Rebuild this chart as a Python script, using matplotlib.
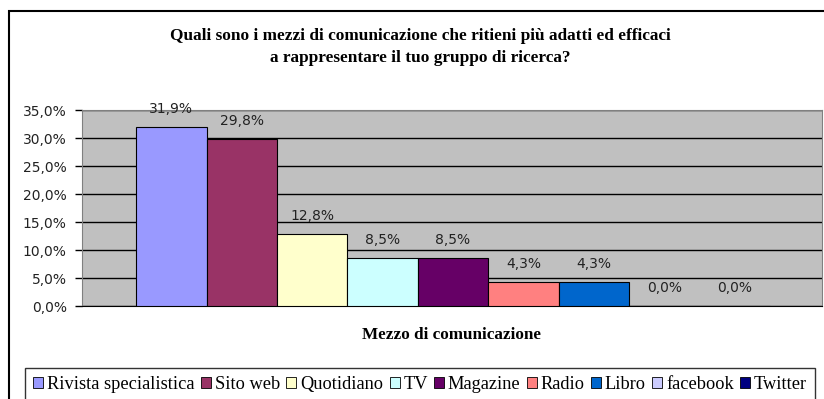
import matplotlib.pyplot as plt
from matplotlib.patches import Patch, Rectangle
from matplotlib.ticker import FuncFormatter, MultipleLocator
import numpy as np

# Risposte alla domanda sui mezzi di comunicazione (percentuali)
mezzi = ['Rivista specialistica', 'Sito web', 'Quotidiano', 'TV', 'Magazine',
         'Radio', 'Libro', 'facebook', 'Twitter']
percentuali = [31.9, 29.8, 12.8, 8.5, 8.5, 4.3, 4.3, 0.0, 0.0]
colori = ['#9999FF', '#993366', '#FFFFCC', '#CCFFFF', '#660066',
          '#FF8080', '#0066CC', '#CCCCFF', '#000080']

titolo = ('Quali sono i mezzi di comunicazione che ritieni più adatti ed efficaci\n'
          'a rappresentare il tuo gruppo di ricerca?')


def fmt_pct(v, pos=None):
    return f'{v:.1f}%'.replace('.', ',')


fig = plt.figure(figsize=(8.24, 3.99), dpi=100)
ax = fig.add_axes([82 / 824, 93 / 399, 740 / 824, 196 / 399])
ax.set_facecolor('#C0C0C0')

x = np.arange(len(mezzi))
ax.bar(x, percentuali, width=1.0, color=colori, edgecolor='black', linewidth=0.8, zorder=3)
for xi, v in zip(x, percentuali):
    ax.annotate(fmt_pct(v), (xi, v), xytext=(0, 8), textcoords='offset points',
                ha='center', va='bottom', fontsize=10, family='DejaVu Sans', color='#222222')

ax.set_xlim(-0.5 - 0.77, len(mezzi) - 0.5 + 0.74)
ax.set_ylim(0, 35)
ax.yaxis.set_major_locator(MultipleLocator(5))
ax.yaxis.set_major_formatter(FuncFormatter(fmt_pct))
ax.tick_params(axis='y', length=5, width=1, direction='out', labelsize=10, pad=6,
               labelcolor='#222222')
ax.tick_params(axis='x', length=0, labelbottom=False)
ax.grid(axis='y', color='black', linewidth=1, zorder=1)
ax.set_axisbelow(True)
for s in ['top', 'right']:
    ax.spines[s].set_color('#808080')
ax.spines['left'].set_color('#808080')
ax.spines['bottom'].set_color('black')

fig.text(420 / 824, 1 - 47 / 399, titolo, ha='center', va='center', fontsize=12.4,
         fontweight='bold', family='Liberation Serif', linespacing=1.55)
fig.text(451 / 824, 1 - 335 / 399, 'Mezzo di comunicazione', ha='center', va='center',
         fontsize=12.3, fontweight='bold', family='Liberation Serif')

# cornice esterna del grafico
fig.add_artist(Rectangle((9 / 824, -0.1), 1.2, 1.1 - 11 / 399, transform=fig.transFigure,
                         fill=False, edgecolor='black', linewidth=1.5))

handles = [Patch(facecolor=c, edgecolor='black', linewidth=0.6) for c in colori]
leg = fig.legend(handles, mezzi, loc='upper left', bbox_to_anchor=(25 / 824, 1 - 368 / 399),
                 ncol=len(mezzi), frameon=True, fancybox=False, edgecolor='black',
                 prop={'family': 'Liberation Serif', 'size': 13.2},
                 handlelength=0.55, handleheight=0.55, handletextpad=0.2,
                 columnspacing=0.35, borderpad=0.45, borderaxespad=0)
leg.get_frame().set_linewidth(1)

fig.savefig('out.png', dpi=100)
